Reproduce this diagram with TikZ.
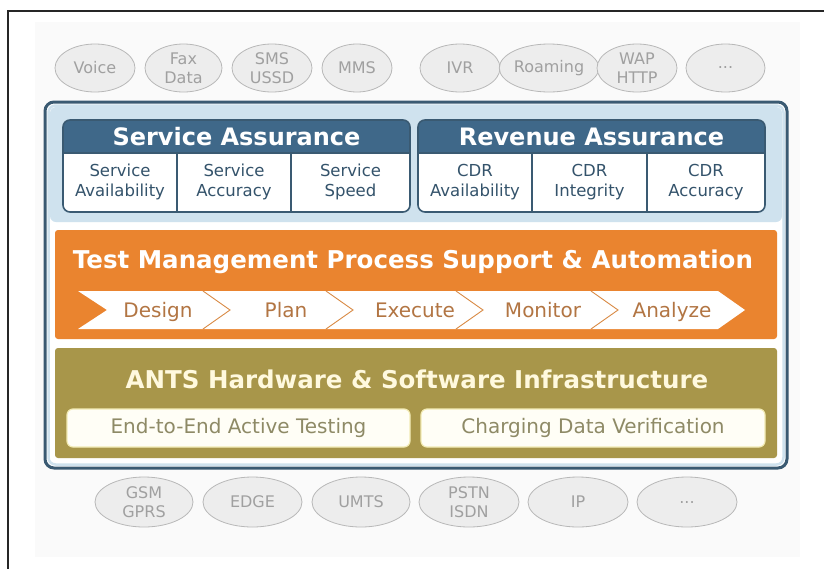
\documentclass[tikz,border=0pt]{standalone}
\usepackage{fontspec}
\setmainfont{DejaVu Sans}
\usetikzlibrary{shapes.geometric}

\definecolor{frameblue}{HTML}{3A5A72}
\definecolor{glowblue}{HTML}{CFE2EE}
\definecolor{hdrblue}{HTML}{3F6889}
\definecolor{celltext}{HTML}{34536B}
\definecolor{tmorange}{HTML}{EA842F}
\definecolor{chevtext}{HTML}{B27543}
\definecolor{chevline}{HTML}{D98A45}
\definecolor{antsolive}{HTML}{A8964A}
\definecolor{antstitle}{HTML}{FFF9DE}
\definecolor{subtext}{HTML}{8E8A66}
\definecolor{subline}{HTML}{F2EBB5}
\definecolor{subfill}{HTML}{FFFEF6}
\definecolor{pillfill}{HTML}{EDEDED}
\definecolor{pillline}{HTML}{B8B8B8}
\definecolor{pilltext}{HTML}{A0A0A0}
\definecolor{paper}{HTML}{FAFAFA}

\tikzset{
  pill/.style={ellipse, draw=pillline, fill=pillfill, line width=0.8pt,
    text=pilltext, font=\fontsize{16}{19}\selectfont, align=center,
    inner sep=0pt, minimum height=48pt},
  hdrtext/.style={text=white, font=\fontsize{24}{28}\selectfont\bfseries},
  celltxt/.style={text=celltext, font=\fontsize{16.5}{20}\selectfont, align=center},
  bandtitle/.style={font=\fontsize{24.5}{28}\selectfont\bfseries},
  chevlabel/.style={text=chevtext, font=\fontsize{20}{24}\selectfont, anchor=base},
  subbox/.style={draw=subline, fill=subfill, line width=1.2pt, rounded corners=6pt,
    text=subtext, font=\fontsize{20}{24}\selectfont, minimum height=38pt, inner sep=0pt},
  asline/.style={draw=frameblue, line width=1.6pt},
}

\begin{document}
\begin{tikzpicture}[x=1pt,y=-1pt]
  \useasboundingbox (0,0) rectangle (824,568);

  % page frame and paper
  \draw[line width=2pt, black!85] (8,11) rectangle (840,590);
  \fill[paper] (35,22) rectangle (800,557);

  % services on top
  \node[pill, minimum width=80pt] (voice) at (95,68) {Voice};
  \node[pill, minimum width=77pt] (fax)   at (183.5,68) {Fax\\Data};
  \node[pill, minimum width=80pt] (sms)   at (272,68) {SMS\\USSD};
  \node[pill, minimum width=70pt] (mms)   at (357,68) {MMS};
  \node[pill, minimum width=80pt] (ivr)   at (460,68) {IVR};
  \node[pill, minimum width=78pt] (roam)  at (549,68) {Roaming};
  \node[pill, minimum width=80pt] (wap)   at (637,68) {WAP\\HTTP};
  \node[pill, minimum width=79pt] (more1) at (725.5,68) {...};

  % outer frame of the platform
  \fill[white, rounded corners=9pt] (45,102) rectangle (787,468);
  \fill[glowblue, rounded corners=6pt] (50,107) rectangle (782,222);
  \draw[glowblue, line width=2.5pt, rounded corners=7pt] (48.5,105.5) rectangle (783.5,464.5);
  \draw[frameblue, line width=3pt, rounded corners=9pt] (45,102) rectangle (787,468);

  % Service Assurance
  \fill[white, rounded corners=7pt] (63,120) rectangle (410,212);
  \begin{scope}
    \clip (60,117) rectangle (413,153);
    \fill[hdrblue, rounded corners=7pt] (63,120) rectangle (410,212);
  \end{scope}
  \node[asline, rounded corners=7pt, minimum width=347pt, minimum height=92pt] (sa) at (236.5,166) {};
  \draw[asline] (63,153) -- (410,153);
  \draw[asline] (177,153) -- (177,212);
  \draw[asline] (291,153) -- (291,212);
  \node[hdrtext] (satitle) at (236.5,137) {Service Assurance};
  \node[celltxt] (sa1) at (120,182) {Service\\Availability};
  \node[celltxt] (sa2) at (234,182) {Service\\Accuracy};
  \node[celltxt] (sa3) at (350.5,182) {Service\\Speed};

  % Revenue Assurance
  \fill[white, rounded corners=7pt] (418,120) rectangle (765,212);
  \begin{scope}
    \clip (415,117) rectangle (768,153);
    \fill[hdrblue, rounded corners=7pt] (418,120) rectangle (765,212);
  \end{scope}
  \node[asline, rounded corners=7pt, minimum width=347pt, minimum height=92pt] (ra) at (591.5,166) {};
  \draw[asline] (418,153) -- (765,153);
  \draw[asline] (532,153) -- (532,212);
  \draw[asline] (647,153) -- (647,212);
  \node[hdrtext] (ratitle) at (591.5,137) {Revenue Assurance};
  \node[celltxt] (ra1) at (475,182) {CDR\\Availability};
  \node[celltxt] (ra2) at (589.5,182) {CDR\\Integrity};
  \node[celltxt] (ra3) at (706,182) {CDR\\Accuracy};

  % Test management band
  \fill[tmorange, rounded corners=3pt] (55,230) rectangle (777,339);
  \node[bandtitle, text=white] (tm) at (413,262) {Test Management Process Support \& Automation};
  \fill[white] (78,291) -- (718,291) -- (745,310) -- (718,329) -- (78,329) -- (107,310) -- cycle;
  \foreach \t in {230,353,483,618}
    \draw[chevline, line width=0.9pt] (\t-27,291) -- (\t,310) -- (\t-27,329);
  \node[chevlabel] (design)  at (158,317) {Design};
  \node[chevlabel] (plan)    at (286,317) {Plan};
  \node[chevlabel] (execute) at (415,317) {Execute};
  \node[chevlabel] (monitor) at (543,317) {Monitor};
  \node[chevlabel] (analyze) at (672,317) {Analyze};

  % infrastructure band
  \fill[antsolive, rounded corners=3pt] (55,348) rectangle (777,458);
  \node[bandtitle, text=antstitle] (ants) at (417,379) {ANTS Hardware \& Software Infrastructure};
  \node[subbox, minimum width=343pt] (e2e) at (238.5,428) {End-to-End Active Testing};
  \node[subbox, minimum width=344pt] (cdv) at (593,428) {Charging Data Verification};

  % networks below
  \node[pill, minimum width=98pt, minimum height=50pt] (gsm)   at (144,502) {GSM\\GPRS};
  \node[pill, minimum width=99pt, minimum height=50pt] (edge)  at (252.5,502) {EDGE};
  \node[pill, minimum width=98pt, minimum height=50pt] (umts)  at (361,502) {UMTS};
  \node[pill, minimum width=100pt, minimum height=50pt] (pstn) at (469,502) {PSTN\\ISDN};
  \node[pill, minimum width=100pt, minimum height=50pt] (ip)   at (578,502) {IP};
  \node[pill, minimum width=100pt, minimum height=50pt] (more2) at (687,502) {...};
\end{tikzpicture}
\end{document}
